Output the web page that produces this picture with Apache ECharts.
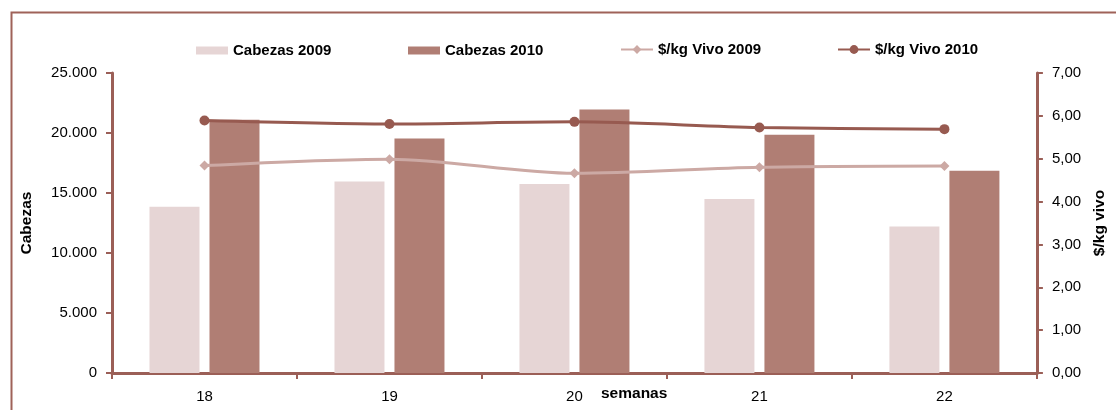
<!DOCTYPE html>
<html>
<head>
<meta charset="utf-8">
<script src="https://cdn.jsdelivr.net/npm/echarts@6/dist/echarts.min.js"></script>
<style>
html,body{margin:0;padding:0;background:#fff;}
#c{width:1116px;height:410px;}
</style>
</head>
<body>
<div id="c"></div>
<script>
const categories = ['18', '19', '20', '21', '22'];
const cabezas2009 = [13850, 15950, 15750, 14500, 12200];
const cabezas2010 = [21100, 19550, 21950, 19850, 16850];
const precio2009 = [4.84, 4.99, 4.66, 4.80, 4.83];
const precio2010 = [5.89, 5.81, 5.86, 5.73, 5.69];
const seriesNames = ['Cabezas 2009', 'Cabezas 2010', '$/kg Vivo 2009', '$/kg Vivo 2010'];

const axisColor = '#9b5f57';
const font = '"Liberation Sans", Arial, sans-serif';
const legendLefts = [191, 403, 615, 832];

const chart = echarts.init(document.getElementById('c'));
chart.setOption({
  animation: false,
  backgroundColor: '#fff',
  textStyle: { fontFamily: font },
  graphic: [
    { type: 'rect', left: 9, top: 10, shape: { width: 1200, height: 500 },
      style: { fill: 'none', stroke: '#9f6259', lineWidth: 2 }, z: 0 },
    { type: 'text', left: 601, top: 386,
      style: { text: 'semanas', font: 'bold 15.5px ' + font, fill: '#000' } }
  ],
  legend: seriesNames.map((n, i) => ({
    top: i < 2 ? 38 : 37, left: legendLefts[i],
    itemWidth: 32, itemHeight: i < 2 ? 8 : 11, itemGap: 0,
    icon: i < 2 ? 'rect' : undefined,
    textStyle: { fontFamily: font, fontWeight: 'bold', fontSize: 15, color: '#000' },
    data: [n]
  })),
  grid: { left: 112, right: 79, top: 73, bottom: 37 },
  xAxis: {
    type: 'category', data: categories,
    axisLine: { lineStyle: { color: axisColor, width: 3 } },
    axisTick: { show: true, length: 6, lineStyle: { color: axisColor, width: 2 } },
    axisLabel: { color: '#000', fontSize: 15, margin: 16, fontFamily: font },
    splitLine: { show: false }
  },
  yAxis: [
    {
      type: 'value', min: 0, max: 25000, interval: 5000,
      name: 'Cabezas', nameLocation: 'middle', nameGap: 77, nameRotate: 90,
      nameTextStyle: { fontWeight: 'bold', fontSize: 15.5, color: '#000', fontFamily: font },
      axisLine: { show: true, lineStyle: { color: axisColor, width: 3 } },
      axisTick: { show: true, length: 6, lineStyle: { color: axisColor, width: 2 } },
      axisLabel: { color: '#000', fontSize: 15, margin: 15, fontFamily: font,
        formatter: v => String(v).replace(/\B(?=(\d{3})+(?!\d))/g, '.') },
      splitLine: { show: false }
    },
    {
      type: 'value', min: 0, max: 7, interval: 1,
      name: '$/kg vivo', nameLocation: 'middle', nameGap: 54, nameRotate: 90,
      nameTextStyle: { fontWeight: 'bold', fontSize: 15.5, color: '#000', fontFamily: font },
      axisLine: { show: true, lineStyle: { color: axisColor, width: 3 } },
      axisTick: { show: true, length: 6, lineStyle: { color: axisColor, width: 2 } },
      axisLabel: { color: '#000', fontSize: 15, margin: 15, fontFamily: font,
        formatter: v => v.toFixed(2).replace('.', ',') },
      splitLine: { show: false }
    }
  ],
  series: [
    { name: seriesNames[0], type: 'bar', data: cabezas2009, barWidth: 50, barGap: '20%',
      itemStyle: { color: '#e6d5d5' } },
    { name: seriesNames[1], type: 'bar', data: cabezas2010, barWidth: 50, barGap: '20%',
      itemStyle: { color: '#b07e74' } },
    { name: seriesNames[2], type: 'line', yAxisIndex: 1, data: precio2009, smooth: 0.3,
      symbol: 'diamond', symbolSize: 10,
      lineStyle: { color: '#cca9a4', width: 3 }, itemStyle: { color: '#cca9a4' }, z: 5 },
    { name: seriesNames[3], type: 'line', yAxisIndex: 1, data: precio2010, smooth: 0.3,
      symbol: 'circle', symbolSize: 10,
      lineStyle: { color: '#975a50', width: 3 }, itemStyle: { color: '#975a50' }, z: 6 }
  ]
});
</script>
</body>
</html>
